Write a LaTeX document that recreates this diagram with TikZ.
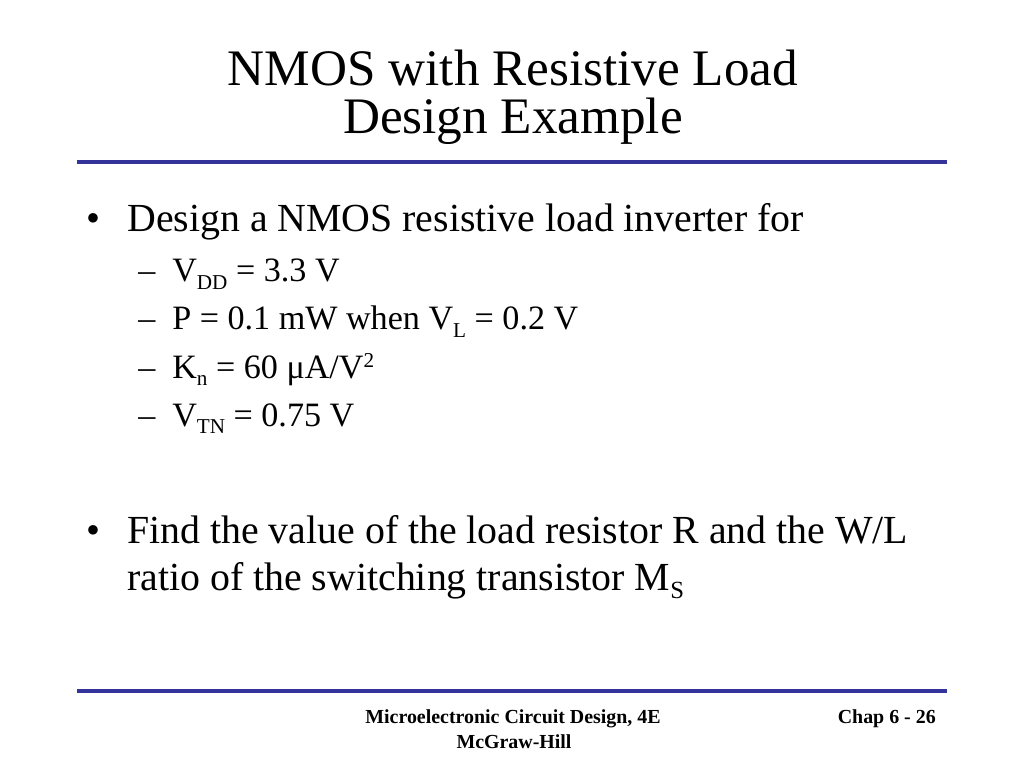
\documentclass[tikz,border=0pt]{standalone}
\usepackage{fontspec}
\setmainfont{Liberation Serif}
\usetikzlibrary{positioning}
\definecolor{rulecolor}{RGB}{51,51,153}
\makeatletter
% lowered and raised indices, scaled to the current size
\newcommand\lowtxt[1]{\raisebox{-0.21em}{\fontsize{\strip@pt\dimexpr0.62\dimexpr\f@size pt\relax\relax}{1em}\selectfont #1}}
\newcommand\hightxt[1]{\raisebox{0.32em}{\fontsize{\strip@pt\dimexpr0.62\dimexpr\f@size pt\relax\relax}{1em}\selectfont #1}}
\makeatother

\begin{document}
\begin{tikzpicture}[x=0.703125pt,y=-0.703125pt,
    every node/.style={inner sep=0pt,anchor=base west},
    title text/.style={font=\fontsize{36}{40}\selectfont,anchor=base},
    point/.style={font=\fontsize{28}{33}\selectfont},
    subpoint/.style={font=\fontsize{24}{28}\selectfont},
    footer text/.style={font=\fontsize{14}{16}\selectfont\bfseries,anchor=base},
    bar/.style={draw=rulecolor,line width=2.4pt}]
    \fill[white] (0,0) rectangle (1024,768);
    \useasboundingbox (0,0) rectangle (1024,768);

    % title
    \node [title text] (title) at (513,86) {NMOS with Resistive Load};
    \node [title text] (subtitle) at (513,134) {Design Example};

    \coordinate (topL) at (77,162);
    \coordinate (topR) at (947,162);
    \path [bar] (topL) -- (topR);

    % first point
    \node [point,anchor=base] (dot1) at (93,232) {•};
    \node [point] (design) at (127,232) {Design a NMOS resistive load inverter for};

    \node [subpoint] (dash1) at (138,282) {–};
    \node [subpoint] (vdd) at (172,282) {V\lowtxt{DD} = 3.3 V};
    \node [subpoint] (dash2) at (138,330) {–};
    \node [subpoint] (power) at (172,330) {P = 0.1 mW when V\lowtxt{L} = 0.2 V};
    \node [subpoint] (dash3) at (138,378) {–};
    \node [subpoint] (kn) at (172,378) {K\lowtxt{n} = 60 μA/V\hightxt{2}};
    \node [subpoint] (dash4) at (138,426) {–};
    \node [subpoint] (vtn) at (172,426) {V\lowtxt{TN} = 0.75 V};

    % second point
    \node [point,anchor=base] (dot2) at (93,543) {•};
    \node [point] (find) at (127,543) {Find the value of the load resistor R and the W/L};
    \node [point] (ratio) at (127,590) {ratio of the switching transistor M\lowtxt{S}};

    \coordinate (botL) at (77,691);
    \coordinate (botR) at (947,691);
    \path [bar] (botL) -- (botR);

    % footer
    \node [footer text] (book) at (513,723) {Microelectronic Circuit Design, 4E};
    \node [footer text] (publisher) at (514,748) {McGraw-Hill};
    \node [footer text,anchor=base east] (page) at (936,723) {Chap 6 - 26};
  \end{tikzpicture}
\end{document}
